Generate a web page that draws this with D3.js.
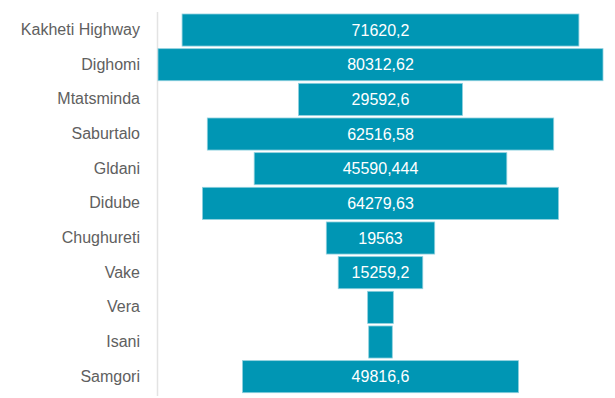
<!DOCTYPE html>
<html>
<head>
<meta charset="utf-8">
<script src="https://cdn.jsdelivr.net/npm/d3@7"></script>
<style>
  body { margin: 0; background: #fff; }
  svg { display: block; font-family: "Liberation Sans", Arial, sans-serif; }
</style>
</head>
<body>
<div id="grafico"></div>
<script>
// categorias e valores
const districts = ["Kakheti Highway", "Dighomi", "Mtatsminda", "Saburtalo", "Gldani", "Didube",
  "Chughureti", "Vake", "Vera", "Isani", "Samgori"]
const values = [71620.2, 80312.62, 29592.6, 62516.58, 45590.444, 64279.63, 19563, 15259.2, 4640, 4260, 49816.6]
const valueLabels = ["71620,2", "80312,62", "29592,6", "62516,58", "45590,444", "64279,63",
  "19563", "15259,2", "", "", "49816,6"]

const data = districts.map((d, i) => ({name: d, value: values[i], label: valueLabels[i]}))

const width = 615, height = 398
const axisX = 157.5, center = 380.5

const svg = d3.select("#grafico")
  .append("svg")
    .attr("width", width)
    .attr("height", height)

// escala vertical (categorias)
const y = d3.scaleBand()
  .domain(districts)
  .range([12.7, 394])
  .paddingInner(0.075)
  .paddingOuter(0.0375)

// largura das barras
const w = d3.scaleLinear()
  .domain([0, d3.max(values)])
  .range([0, 445])

// linha do eixo
svg.append("line")
  .attr("x1", axisX).attr("x2", axisX)
  .attr("y1", 12).attr("y2", 396)
  .attr("stroke", "#e3e3e3")
  .attr("stroke-width", 1.5)

// eixo y com os nomes
const yAxis = svg.append("g")
  .attr("transform", "translate(140,0)")
  .call(d3.axisLeft(y).tickSize(0).tickPadding(0))
yAxis.select(".domain").remove()
yAxis.attr("font-family", null).attr("font-size", null)
yAxis.selectAll("text")
  .attr("fill", "#606060")
  .style("font-size", "16px")
  .style("font-family", "'Liberation Sans', Arial, sans-serif")

// barras centradas
svg.selectAll("rect.bar")
  .data(data)
  .join("rect")
    .attr("class", "bar")
    .attr("x", d => center - w(d.value) / 2)
    .attr("y", d => y(d.name))
    .attr("width", d => w(d.value))
    .attr("height", y.bandwidth())
    .attr("fill", "#0096B4")
    .attr("stroke", "#8fd0de")
    .attr("stroke-width", 0.8)

// rótulos
svg.selectAll("text.val")
  .data(data)
  .join("text")
    .attr("class", "val")
    .attr("x", center)
    .attr("y", d => y(d.name) + y.bandwidth() / 2)
    .attr("dy", "0.35em")
    .attr("text-anchor", "middle")
    .attr("fill", "#fff")
    .style("font-size", "16px")
    .text(d => d.label)
</script>
</body>
</html>
